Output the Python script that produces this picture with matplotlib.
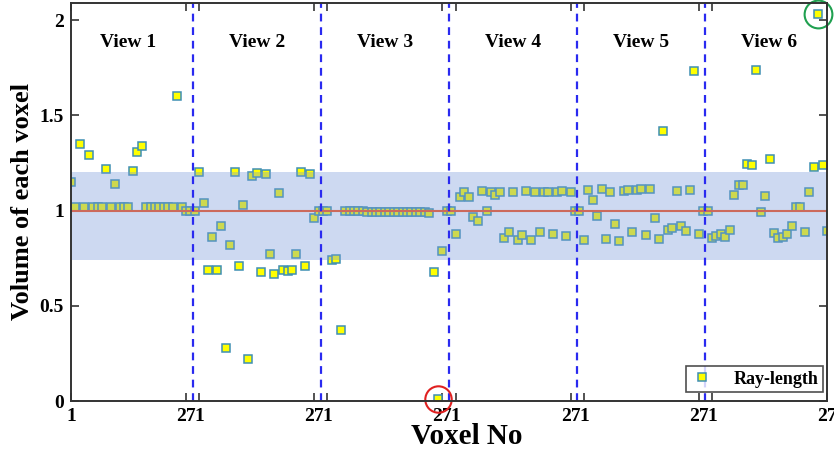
import matplotlib
matplotlib.use("Agg")
import matplotlib.pyplot as plt
import numpy as np

# ---- data -------------------------------------------------------------
view1 = [1.15, 1.02, 1.35, 1.02, 1.29, 1.02, 1.02, 1.02, 1.22, 1.02, 1.14, 1.02, 1.02, 1.02,
         1.21, 1.31, 1.34, 1.02, 1.02, 1.02, 1.02, 1.02, 1.02, 1.02, 1.60, 1.02, 1.00]
view2 = [1.20, 1.04, 0.69, 0.86, 0.69, 0.92, 0.28, 0.82, 1.20, 0.71, 1.03, 0.22, 1.18, 1.195,
         0.675, 1.19, 0.77, 0.665, 1.09, 0.69, 0.685, 0.69, 0.77, 1.20, 0.71, 1.19, 0.96]
view3 = [1.00, 0.74, 0.745, 0.375, 1.00, 1.00, 1.00, 1.00, 1.00, 0.995, 0.995, 0.995, 0.995, 0.995,
         0.995, 0.995, 0.99, 0.99, 0.99, 0.99, 0.99, 0.99, 0.99, 0.985, 0.68, 0.01, 0.79]
view4 = [0.877, 1.07, 1.095, 1.07, 0.967, 0.945, 1.105, 1.00, 1.10, 1.084, 1.095, 0.856, 0.886, 1.10,
         0.847, 0.874, 1.104, 0.843, 1.095, 0.886, 1.095, 1.10, 0.877, 1.095, 1.104, 0.866, 1.10]
view5 = [0.845, 1.11, 1.055, 0.97, 1.115, 0.85, 1.095, 0.93, 0.84, 1.105, 1.11, 0.89, 1.11, 1.115,
         0.87, 1.115, 0.96, 0.85, 1.42, 0.90, 0.91, 1.105, 0.92, 0.895, 1.11, 1.735, 0.875]
view6 = [0.855, 0.865, 0.875, 0.86, 0.90, 1.08, 1.135, 1.135, 1.245, 1.24, 1.74, 0.99, 1.075, 1.27,
         0.88, 0.855, 0.86, 0.875, 0.92, 1.02, 1.02, 0.89, 1.095, 1.23, 2.03, 1.24, 0.895]
gap_values = [1.00, 1.00]          # two separator samples between consecutive views
view_names = ["View 1", "View 2", "View 3", "View 4", "View 5", "View 6"]
band_low, band_high = 0.74, 1.20
reference = 1.0
y_ticks = [0, 0.5, 1, 1.5, 2]
y_tick_labels = ["0", "0.5", "1", "1.5", "2"]
series_label = "Ray-length"

views = [view1, view2, view3, view4, view5, view6]
n_vox = 27
period = n_vox + len(gap_values)

xs, ys = [], []
for k, v in enumerate(views):
    for j, val in enumerate(v):
        xs.append(k * period + j + 1)
        ys.append(val)
    if k < len(views) - 1:
        for g, val in enumerate(gap_values):
            xs.append(k * period + n_vox + g + 1)
            ys.append(val)

# ---- figure -----------------------------------------------------------
plt.rcParams['font.family'] = ['Liberation Serif', 'DejaVu Serif']
plt.rcParams['font.weight'] = 'bold'

fig = plt.figure(figsize=(8.34, 4.54), dpi=100)
ax = fig.add_axes([71 / 834, 53 / 454, 756 / 834, 398 / 454])

x_min, x_max = 1, len(views) * period - len(gap_values)
ax.set_xlim(x_min, x_max)
ax.set_ylim(0, 2.09)

ax.plot(xs, ys, linestyle='none', marker='s', markersize=5.8,
        markerfacecolor='#ffff00', markeredgecolor='#3f8fb3', markeredgewidth=1.1,
        zorder=2, label=series_label)

ax.axhspan(band_low, band_high, color=(0.47, 0.60, 0.85), alpha=0.37, lw=0, zorder=3)
ax.axhline(reference, color='#cc6a5c', lw=1.5, zorder=4)

for k in range(1, len(views)):
    xb = k * period - len(gap_values) / 2 + 0.5
    ax.axvline(xb, color='#2a2af0', lw=1.6, dashes=(3.5, 2.6), zorder=5)

for k, name in enumerate(view_names):
    ax.text(k * period + (n_vox + 1) / 2, 1.885, name, ha='center', va='center',
            fontsize=14, fontweight='bold')

# annotation circles
ax.plot([xs[ys.index(min(ys))]], [min(ys)], 'o', ms=19, mfc='none', mec='#e02020', mew=1.5,
        clip_on=False, zorder=6)
ax.plot([xs[ys.index(max(ys))]], [max(ys)], 'o', ms=20, mfc='none', mec='#20a050', mew=1.5,
        clip_on=False, zorder=6)

xt, xtl = [], []
for k in range(len(views)):
    xt += [k * period + 1, k * period + n_vox]
    xtl += ["1", str(n_vox)]
ax.set_xticks(xt)
ax.set_xticklabels(xtl)
ax.set_yticks(y_ticks)
ax.set_yticklabels(y_tick_labels)
ax.tick_params(direction='in', top=True, right=True, length=6, width=1.3, color='#444444',
               labelsize=14, pad=5)
for lab in ax.get_xticklabels() + ax.get_yticklabels():
    lab.set_fontweight('bold')

for s in ax.spines.values():
    s.set_linewidth(1.4)
    s.set_color('#333333')
    s.set_zorder(7)

ax.set_xlabel("Voxel No", fontsize=21, fontweight='bold')
ax.xaxis.set_label_coords(0.524, -0.056, transform=ax.transAxes)
ax.xaxis.label.set_va('top')
ax.set_ylabel("Volume of each voxel", fontsize=19, fontweight='bold', labelpad=4)

leg = ax.legend(loc='lower right', bbox_to_anchor=(1.0, 0.013), fontsize=13, frameon=True,
                fancybox=False, edgecolor='#222222', handletextpad=1.2, borderpad=0.25,
                borderaxespad=0.2, handlelength=1.2)
leg.get_frame().set_linewidth(1.2)
for t in leg.get_texts():
    t.set_fontweight('bold')

fig.savefig("out.png", dpi=100)
